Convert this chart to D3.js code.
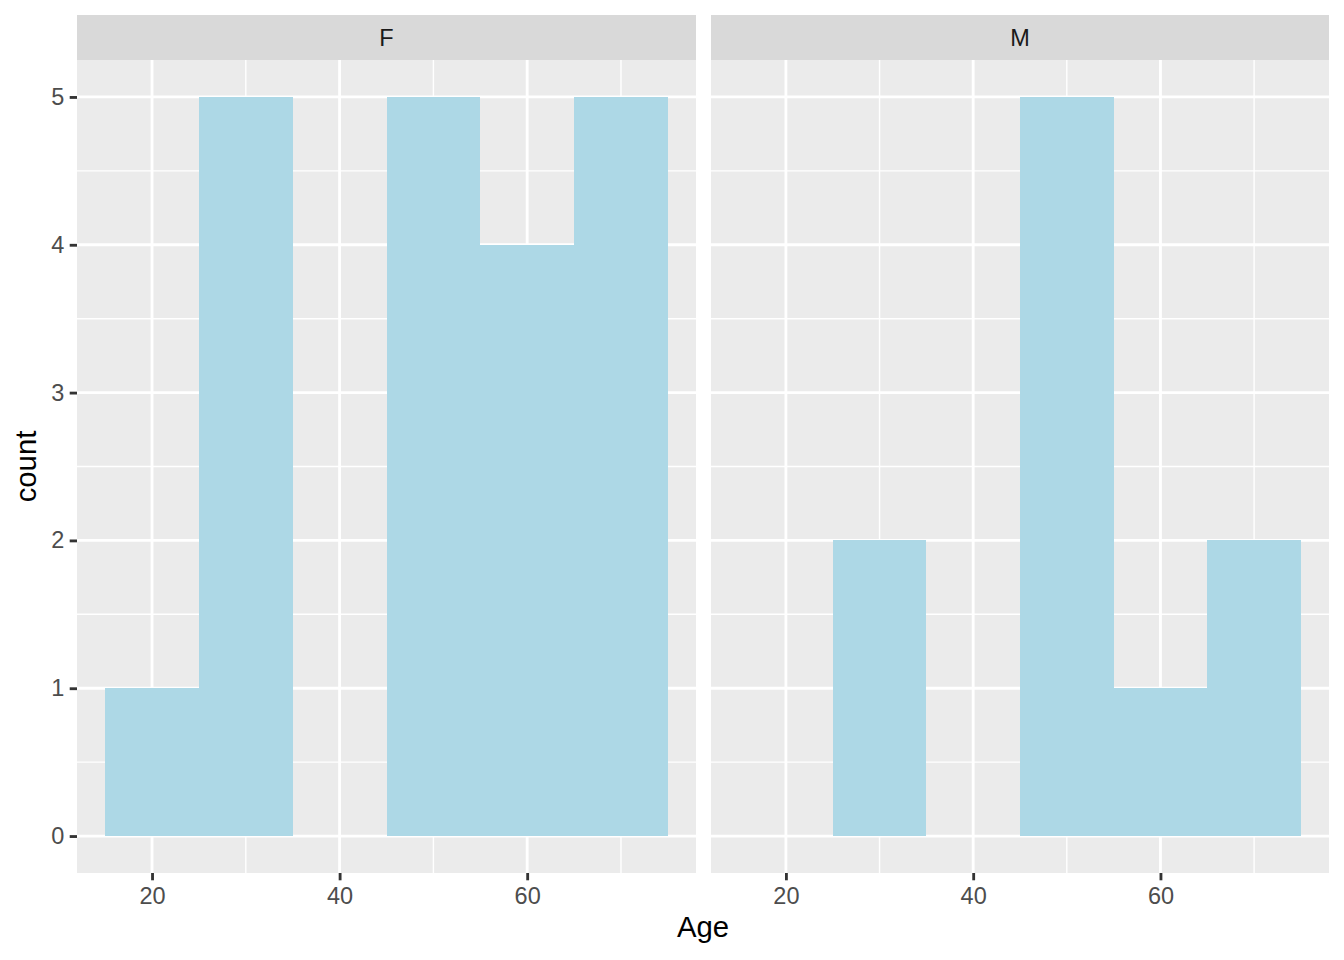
<!DOCTYPE html>
<html><head><meta charset="utf-8">
<script src="https://cdn.jsdelivr.net/npm/d3@7"></script>
<style>body{margin:0;background:#fff}svg{display:block}text{font-family:"Liberation Sans",Arial,sans-serif}</style>
</head><body>
<script>
const facets = ["F", "M"];
const binStarts = [15, 25, 35, 45, 55, 65];
const binWidth = 10;
const countsF = [1, 5, 0, 5, 4, 5];
const countsM = [0, 2, 0, 5, 1, 2];
const xTicks = [20, 40, 60];
const xMinor = [30, 50, 70];
const yTicks = [0, 1, 2, 3, 4, 5];
const yMinor = [0.5, 1.5, 2.5, 3.5, 4.5];

const W = 1344, H = 960;
const svg = d3.select("body").append("svg").attr("width", W).attr("height", H);
const panelTop = 60, panelBottom = 873, stripTop = 15;
const panels = [{x0: 77, x1: 696, name: facets[0], counts: countsF},
                {x0: 711, x1: 1329, name: facets[1], counts: countsM}];
const y = d3.scaleLinear().domain([-0.25, 5.25]).range([panelBottom, panelTop]);
const majorW = 2.84, minorW = 1.42;

panels.forEach((p, i) => {
  const x = d3.scaleLinear().domain([12, 78]).range([p.x0, p.x1]);
  const g = svg.append("g");
  g.append("rect").attr("x", p.x0).attr("y", panelTop).attr("width", p.x1 - p.x0).attr("height", panelBottom - panelTop).attr("fill", "#EBEBEB");
  g.selectAll(".ym").data(yMinor).join("line").attr("x1", p.x0).attr("x2", p.x1).attr("y1", d => y(d)).attr("y2", d => y(d)).attr("stroke", "#fff").attr("stroke-width", minorW);
  g.selectAll(".xm").data(xMinor).join("line").attr("y1", panelTop).attr("y2", panelBottom).attr("x1", d => x(d)).attr("x2", d => x(d)).attr("stroke", "#fff").attr("stroke-width", minorW);
  g.selectAll(".yM").data(yTicks).join("line").attr("x1", p.x0).attr("x2", p.x1).attr("y1", d => y(d)).attr("y2", d => y(d)).attr("stroke", "#fff").attr("stroke-width", majorW);
  g.selectAll(".xM").data(xTicks).join("line").attr("y1", panelTop).attr("y2", panelBottom).attr("x1", d => x(d)).attr("x2", d => x(d)).attr("stroke", "#fff").attr("stroke-width", majorW);
  const data = binStarts.map((b, j) => ({b, c: p.counts[j]}));
  g.selectAll(".bar").data(data).join("rect")
    .attr("x", d => x(d.b)).attr("width", d => x(d.b + binWidth) - x(d.b))
    .attr("y", d => y(d.c)).attr("height", d => y(0) - y(d.c))
    .attr("fill", "#ADD8E6").attr("shape-rendering", "crispEdges");
  g.append("rect").attr("x", p.x0).attr("y", stripTop).attr("width", p.x1 - p.x0).attr("height", panelTop - stripTop).attr("fill", "#D9D9D9");
  g.append("text").attr("x", (p.x0 + p.x1) / 2).attr("y", (stripTop + panelTop) / 2).attr("dy", "0.35em").attr("text-anchor", "middle").attr("font-size", 23.5).attr("fill", "#1A1A1A").text(p.name);
  const xa = svg.append("g").attr("transform", `translate(0,${panelBottom})`)
    .call(d3.axisBottom(x).tickValues(xTicks).tickSize(7.3).tickPadding(7.5).tickFormat(d3.format("d")));
  xa.select(".domain").remove();
  xa.selectAll(".tick line").attr("stroke", "#333333").attr("stroke-width", majorW);
  xa.selectAll(".tick text").attr("fill", "#4D4D4D").attr("font-size", 23.5).attr("font-family", "Liberation Sans, Arial, sans-serif");
  if (i === 0) {
    const ya = svg.append("g").attr("transform", `translate(${p.x0},0)`)
      .call(d3.axisLeft(y).tickValues(yTicks).tickSize(7.3).tickPadding(5.5).tickFormat(d3.format("d")));
    ya.select(".domain").remove();
    ya.selectAll(".tick line").attr("stroke", "#333333").attr("stroke-width", majorW);
    ya.selectAll(".tick text").attr("fill", "#4D4D4D").attr("font-size", 23.5).attr("font-family", "Liberation Sans, Arial, sans-serif");
  }
});

svg.append("text").attr("x", (77 + 1329) / 2).attr("y", 937).attr("text-anchor", "middle").attr("font-size", 29.3).attr("fill", "#000").text("Age");
svg.append("text").attr("transform", `translate(36,${(panelTop + panelBottom) / 2}) rotate(-90)`).attr("text-anchor", "middle").attr("font-size", 29.3).attr("fill", "#000").text("count");
</script>
</body></html>
